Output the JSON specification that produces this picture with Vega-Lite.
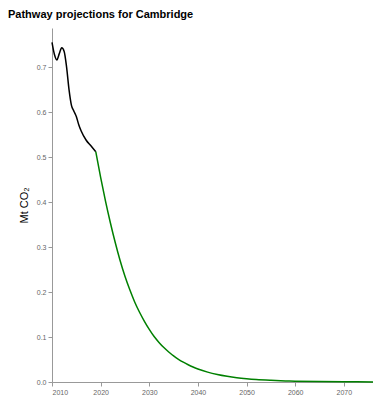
{
  "$schema": "https://vega.github.io/schema/vega-lite/v6.json",
  "autosize": {"type": "none"},
  "width": 321,
  "height": 354,
  "padding": {"left": 52, "top": 28, "right": 0, "bottom": 18},
  "background": "white",
  "title": {
    "text": "Pathway projections for Cambridge",
    "anchor": "start",
    "frame": "group",
    "dx": -44,
    "offset": 8,
    "fontSize": 11,
    "fontWeight": "bold",
    "font": "Liberation Sans",
    "color": "#000000"
  },
  "config": {
    "view": {"stroke": null},
    "axis": {
      "domainColor": "#999999",
      "tickColor": "#999999",
      "labelColor": "#666666",
      "labelFont": "Liberation Sans",
      "labelFontSize": 7,
      "titleFont": "Liberation Sans",
      "grid": false,
      "tickSize": 4
    }
  },
  "data": {
    "values": [
      {"year": 2010, "value": 0.755, "series": "historical"},
      {"year": 2010.5, "value": 0.728, "series": "historical"},
      {"year": 2011, "value": 0.716, "series": "historical"},
      {"year": 2011.5, "value": 0.730, "series": "historical"},
      {"year": 2012, "value": 0.743, "series": "historical"},
      {"year": 2012.5, "value": 0.735, "series": "historical"},
      {"year": 2013, "value": 0.700, "series": "historical"},
      {"year": 2013.5, "value": 0.650, "series": "historical"},
      {"year": 2014, "value": 0.615, "series": "historical"},
      {"year": 2014.5, "value": 0.602, "series": "historical"},
      {"year": 2015, "value": 0.590, "series": "historical"},
      {"year": 2015.5, "value": 0.572, "series": "historical"},
      {"year": 2016, "value": 0.558, "series": "historical"},
      {"year": 2017, "value": 0.538, "series": "historical"},
      {"year": 2018, "value": 0.525, "series": "historical"},
      {"year": 2019, "value": 0.512, "series": "historical"},
      {"year": 2019, "value": 0.512, "series": "projection"},
      {"year": 2020, "value": 0.455, "series": "projection"},
      {"year": 2021, "value": 0.402, "series": "projection"},
      {"year": 2022, "value": 0.354, "series": "projection"},
      {"year": 2023, "value": 0.310, "series": "projection"},
      {"year": 2024, "value": 0.270, "series": "projection"},
      {"year": 2025, "value": 0.235, "series": "projection"},
      {"year": 2026, "value": 0.205, "series": "projection"},
      {"year": 2027, "value": 0.178, "series": "projection"},
      {"year": 2028, "value": 0.155, "series": "projection"},
      {"year": 2029, "value": 0.135, "series": "projection"},
      {"year": 2030, "value": 0.117, "series": "projection"},
      {"year": 2031, "value": 0.101, "series": "projection"},
      {"year": 2032, "value": 0.088, "series": "projection"},
      {"year": 2033, "value": 0.0765, "series": "projection"},
      {"year": 2034, "value": 0.0667, "series": "projection"},
      {"year": 2035, "value": 0.058, "series": "projection"},
      {"year": 2036, "value": 0.0505, "series": "projection"},
      {"year": 2037, "value": 0.044, "series": "projection"},
      {"year": 2038, "value": 0.0383, "series": "projection"},
      {"year": 2039, "value": 0.0333, "series": "projection"},
      {"year": 2040, "value": 0.029, "series": "projection"},
      {"year": 2042, "value": 0.022, "series": "projection"},
      {"year": 2044, "value": 0.0167, "series": "projection"},
      {"year": 2046, "value": 0.0127, "series": "projection"},
      {"year": 2048, "value": 0.0096, "series": "projection"},
      {"year": 2050, "value": 0.0073, "series": "projection"},
      {"year": 2052, "value": 0.0055, "series": "projection"},
      {"year": 2055, "value": 0.0037, "series": "projection"},
      {"year": 2058, "value": 0.0024, "series": "projection"},
      {"year": 2060, "value": 0.0018, "series": "projection"},
      {"year": 2065, "value": 0.0009, "series": "projection"},
      {"year": 2070, "value": 0.00045, "series": "projection"},
      {"year": 2076, "value": 0.0002, "series": "projection"}
    ]
  },
  "mark": {"type": "line", "interpolate": "monotone", "strokeWidth": 1.5},
  "encoding": {
    "x": {
      "field": "year",
      "type": "quantitative",
      "scale": {"domain": [2010, 2076], "nice": false, "zero": false},
      "axis": {"title": null, "values": [2010, 2020, 2030, 2040, 2050, 2060, 2070], "format": "d", "labelPadding": 2}
    },
    "y": {
      "field": "value",
      "type": "quantitative",
      "scale": {"domain": [0, 0.787], "nice": false},
      "axis": {"title": "Mt CO₂", "titleColor": "#000000", "titleFontSize": 11, "titleFontWeight": "normal", "titlePadding": 7, "values": [0, 0.1, 0.2, 0.3, 0.4, 0.5, 0.6, 0.7], "format": ".1f", "labelPadding": 2}
    },
    "color": {
      "field": "series",
      "type": "nominal",
      "scale": {"domain": ["historical", "projection"], "range": ["#000000", "#008000"]},
      "legend": null
    }
  }
}
